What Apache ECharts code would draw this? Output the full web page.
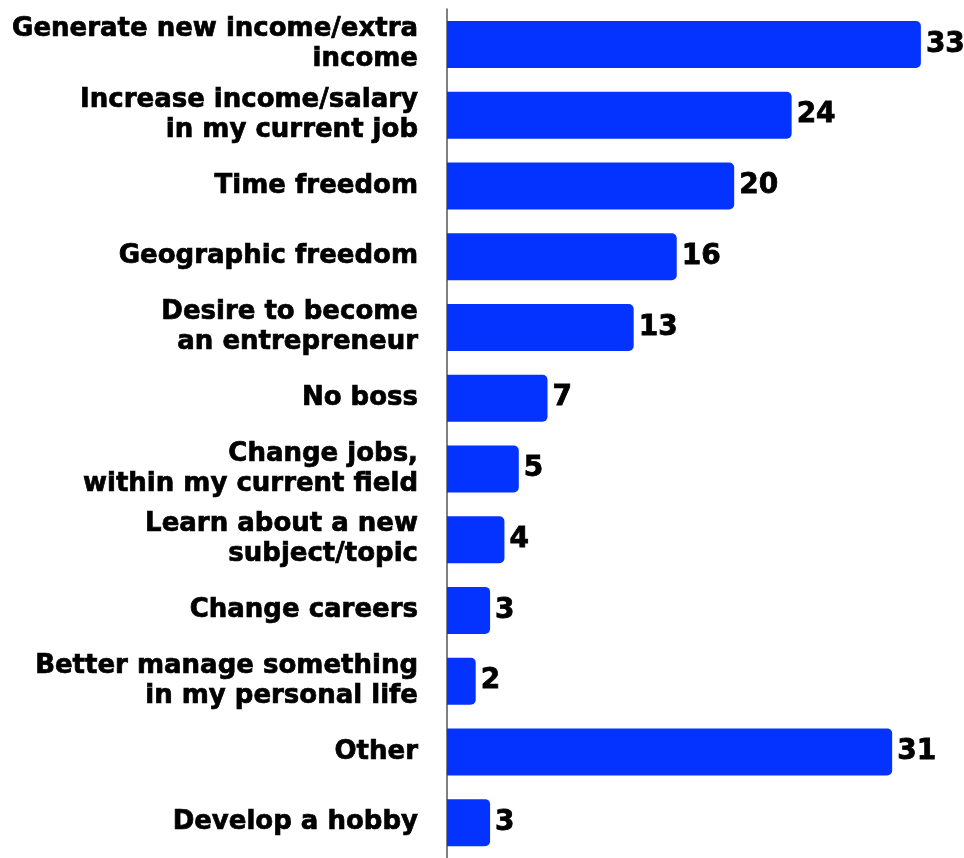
<!DOCTYPE html>
<html>
<head>
<meta charset="utf-8">
<script src="https://cdn.jsdelivr.net/npm/echarts@6/dist/echarts.min.js"></script>
<style>
html,body{margin:0;padding:0;background:#fff;}
#chart{width:964px;height:858px;}
</style>
</head>
<body>
<div id="chart"></div>
<script>
const categories = [
  "Generate new income/extra\nincome",
  "Increase income/salary\nin my current job",
  "Time freedom",
  "Geographic freedom",
  "Desire to become\nan entrepreneur",
  "No boss",
  "Change jobs,\nwithin my current field",
  "Learn about a new\nsubject/topic",
  "Change careers",
  "Better manage something\nin my personal life",
  "Other",
  "Develop a hobby"
];
const values = [33, 24, 20, 16, 13, 7, 5, 4, 3, 2, 31, 3];

const chart = echarts.init(document.getElementById('chart'));
chart.setOption({
  animation: false,
  backgroundColor: '#ffffff',
  grid: { left: 447, top: 9.1, width: 14.36 * 35, height: 854, containLabel: false },
  xAxis: {
    type: 'value', min: 0, max: 35,
    show: false
  },
  yAxis: {
    type: 'category',
    data: categories,
    inverse: true,
    axisLine: { show: true, lineStyle: { color: '#555555', width: 1.5 } },
    axisTick: { show: false },
    axisLabel: {
      margin: 29,
      color: '#000000',
      fontFamily: 'DejaVu Sans',
      fontWeight: 'bold',
      fontSize: 26,
      lineHeight: 30,
      align: 'right',
      textBorderColor: '#000000',
      textBorderWidth: 0.7
    }
  },
  series: [{
    type: 'bar',
    data: values,
    barWidth: 47,
    itemStyle: { color: '#0433ff', borderRadius: [0, 5, 5, 0] },
    label: {
      show: true,
      position: 'right',
      distance: 5,
      color: '#000000',
      fontFamily: 'DejaVu Sans',
      fontWeight: 'bold',
      fontSize: 28,
      textBorderColor: '#000000',
      textBorderWidth: 0.8
    }
  }]
});
</script>
</body>
</html>
